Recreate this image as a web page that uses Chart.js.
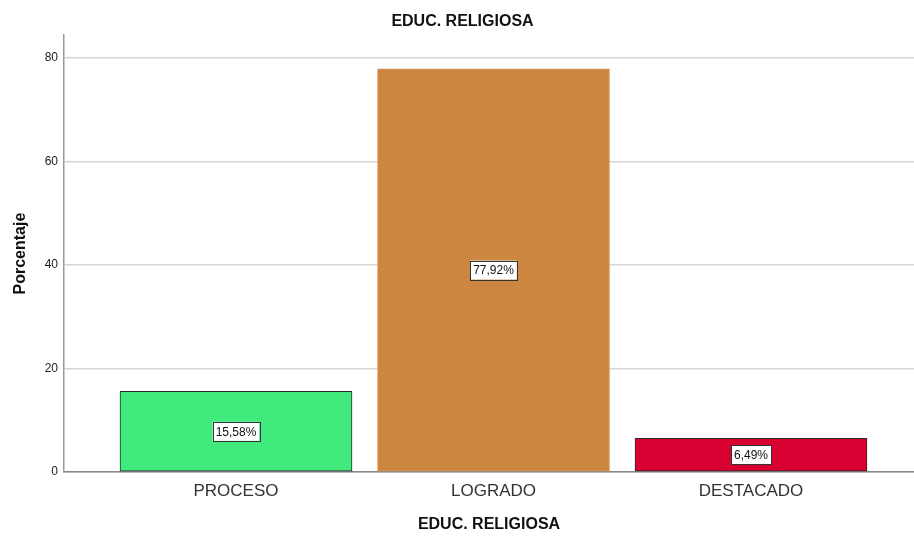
<!DOCTYPE html>
<html>
<head>
<meta charset="utf-8">
<script src="https://cdn.jsdelivr.net/npm/chart.js@4"></script>
<style>
  html, body { margin: 0; padding: 0; background: #fff; }
  #wrap { width: 914px; height: 536px; }
</style>
</head>
<body>
<div id="wrap"><canvas id="chart" width="914" height="536"></canvas></div>
<script>
// values
const categories = ['PROCESO', 'LOGRADO', 'DESTACADO'];
const percentages = [15.58, 77.92, 6.49];
const barColors = ['#40EA7C', '#CD8640', '#D70030'];
const barBorders = ['#2a2a2a', '#D89656', '#2a2a2a'];
const yTicks = [0, 20, 40, 60, 80];

const FONT = '"Liberation Sans", Arial, sans-serif';

// white boxed percentage in the middle of each bar
const barLabels = {
  id: 'barLabels',
  afterDatasetsDraw(chart) {
    const ctx = chart.ctx;
    const meta = chart.getDatasetMeta(0);
    ctx.save();
    ctx.font = '12px ' + FONT;
    ctx.textAlign = 'center';
    ctx.textBaseline = 'middle';
    meta.data.forEach((bar, i) => {
      const txt = percentages[i].toFixed(2).replace('.', ',') + '%';
      const w = ctx.measureText(txt).width + 6;
      const h = 19;
      const cy = (bar.y + bar.base) / 2;
      ctx.fillStyle = '#fff';
      ctx.fillRect(bar.x - w / 2, cy - h / 2, w, h);
      ctx.strokeStyle = '#333';
      ctx.lineWidth = 1;
      ctx.strokeRect(Math.round(bar.x - w / 2) + 0.5, Math.round(cy - h / 2) + 0.5, Math.round(w), h);
      ctx.fillStyle = '#111';
      ctx.fillText(txt, bar.x, cy + 1);
    });
    ctx.restore();
  }
};

new Chart(document.getElementById('chart'), {
  type: 'bar',
  data: {
    datasets: [{
      data: percentages.map((v, i) => ({ x: i, y: v })),
      backgroundColor: barColors,
      borderColor: barBorders,
      borderWidth: 1,
      borderSkipped: false,
      barThickness: 232
    }]
  },
  options: {
    responsive: false,
    animation: false,
    layout: { padding: { left: 11, right: 0, top: 0, bottom: 0 } },
    plugins: {
      legend: { display: false },
      tooltip: { enabled: false },
      title: {
        display: true,
        text: 'EDUC. RELIGIOSA',
        color: '#111',
        font: { family: FONT, size: 16, weight: 'bold' },
        padding: { top: 12, bottom: 4 }
      }
    },
    scales: {
      x: {
        type: 'linear',
        offset: false,
        min: -0.668,
        max: 2.633,
        afterFit: s => { s.height = 64; },
        grid: { display: false, drawTicks: false },
        border: { color: '#888', width: 1.5 },
        ticks: {
          stepSize: 1,
          includeBounds: false,
          autoSkip: false,
          maxRotation: 0,
          padding: 9,
          color: '#333',
          font: { family: FONT, size: 17 },
          callback: v => categories[v] ?? ''
        },
        title: {
          display: true,
          text: 'EDUC. RELIGIOSA',
          color: '#111',
          font: { family: FONT, size: 16, weight: 'bold' },
          padding: { top: 4, bottom: 2 }
        }
      },
      y: {
        min: 0,
        max: 84.44,
        afterFit: s => { s.width = 53; },
        afterBuildTicks: s => { s.ticks = yTicks.map(v => ({ value: v })); },
        grid: { color: '#d6d6d6', lineWidth: 1.5, drawTicks: false },
        border: { color: '#999', width: 1.5 },
        ticks: {
          padding: 6,
          color: '#222',
          font: { family: FONT, size: 12 }
        },
        title: {
          display: true,
          text: 'Porcentaje',
          color: '#111',
          font: { family: FONT, size: 16, weight: 'bold' },
          padding: { top: 0, bottom: 0 }
        }
      }
    }
  },
  plugins: [barLabels]
});
</script>
</body>
</html>
